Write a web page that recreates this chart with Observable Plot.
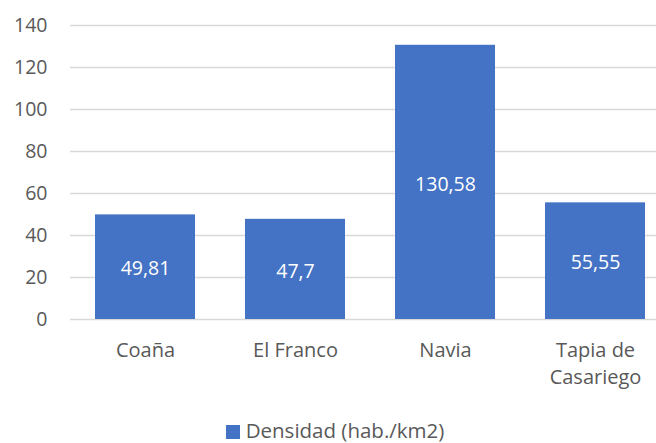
<!DOCTYPE html>
<html>
<head>
<meta charset="utf-8">
<script src="https://cdn.jsdelivr.net/npm/d3@7"></script>
<script src="https://cdn.jsdelivr.net/npm/@observablehq/plot@0.6"></script>
<style>
  html, body { margin: 0; padding: 0; background: #fff; width: 656px; height: 443px; overflow: hidden; }
  #chart svg { display: block; overflow: visible; }
  #legend { height: 24px; line-height: 24px; display: flex; justify-content: center; align-items: center; font-family: "Open Sans", sans-serif; font-size: 20.5px; color: #595959; padding-left: 14px; }
  #legend .sw { width: 14px; height: 14px; background: #4472C4; margin-right: 6px; margin-top: 3px; }
</style>
</head>
<body>
<div id="chart"></div>
<div id="legend"><span class="sw"></span><span id="legtext"></span></div>
<script>
const categories = ["Coaña", "El Franco", "Navia", "Tapia de\nCasariego"];
const values = [49.81, 47.7, 130.58, 55.55];
const yTicks = [0, 20, 40, 60, 80, 100, 120, 140];
const seriesName = "Densidad (hab./km2)";

const data = categories.map((c, i) => ({category: c, value: values[i]}));
const fmt = v => String(v).replace(".", ",");

document.getElementById("legtext").textContent = seriesName;

const chart = Plot.plot({
  width: 656,
  height: 418,
  marginLeft: 70,
  marginRight: -14,
  marginTop: 25,
  marginBottom: 99,
  style: {fontFamily: "'Open Sans', sans-serif", fontSize: "20px", color: "#595959", background: "#fff"},
  x: {domain: categories, paddingInner: 1/3, paddingOuter: 1/6, label: null},
  y: {domain: [0, 140], ticks: yTicks, label: null},
  marks: [
    Plot.gridY(yTicks, {stroke: "#d9d9d9", strokeOpacity: 1, strokeWidth: 1.3}),
    Plot.barY(data, {x: "category", y: "value", fill: "#4472C4"}),
    Plot.text(data, {x: "category", y: d => d.value / 2, text: d => fmt(d.value), fill: "white", fontSize: 19.5, dy: 2}),
    Plot.axisY(yTicks, {tickSize: 0, tickPadding: 23, fontSize: 19.5, fill: "#595959", label: null}),
    Plot.axisX({tickSize: 0, tickPadding: 18, fontSize: 20, fill: "#595959", lineHeight: 1.35, label: null})
  ]
});
document.getElementById("chart").appendChild(chart);
</script>
</body>
</html>
